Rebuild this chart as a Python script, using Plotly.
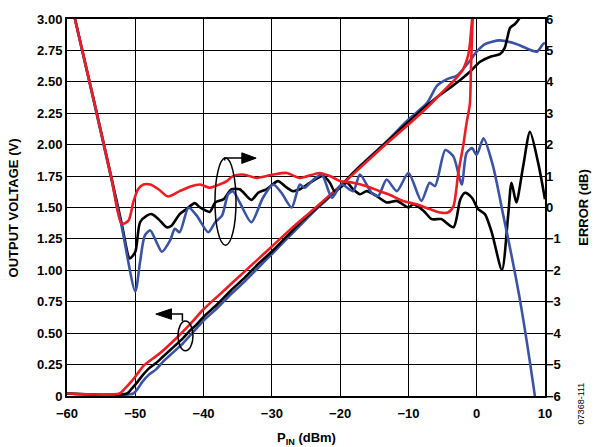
import plotly.graph_objects as go

# ---------------- data ----------------
# Output voltage (left axis, V)
red_v_x = [-60, -52.3, -51.5, -50.5, -49.5, -48.8, -46.4, -44, -42, -40, -37, -34, -30, -27.4, -24, -20,
           -17, -14, -10, -7, -5, -3, -2, -1.3, -1.0, -0.8, -0.6, -0.4]
red_v_y = [0.02, 0.02, 0.06, 0.12, 0.19, 0.24, 0.34, 0.46, 0.57, 0.69, 0.84, 0.99, 1.19, 1.32, 1.48, 1.67,
           1.82, 1.97, 2.16, 2.31, 2.42, 2.53, 2.60, 2.70, 2.80, 2.92, 3.05, 3.2]

black_v_x = [-60, -51.2, -50.5, -50, -49, -48, -47, -46, -45, -44, -43, -42, -41, -40, -38, -36, -34, -32,
             -30, -28, -26, -24, -22, -20, -18, -16, -14, -12, -10, -8, -6, -4, -2.5, -1, 0.5, 2, 3.4,
             4.1, 4.9, 5.6, 6.3, 7]
black_v_y = [0.02, 0.02, 0.06, 0.09, 0.16, 0.22, 0.26, 0.31, 0.36, 0.41, 0.46, 0.52, 0.57, 0.63, 0.73,
             0.84, 0.94, 1.05, 1.15, 1.26, 1.37, 1.47, 1.57, 1.67, 1.78, 1.88, 1.98, 2.08, 2.18, 2.28,
             2.37, 2.45, 2.51, 2.58, 2.66, 2.70, 2.72, 2.77, 2.93, 2.96, 3.01, 3.1]

blue_v_x = [-60, -50.3, -49.5, -49, -48, -47, -46, -45, -44, -43, -42, -41, -40, -38, -36, -34, -32, -30,
            -28, -26, -24, -22, -20, -17.1, -13.7, -9.8, -7.3, -5.8, -4.4, -2.9, -1.4, 0, 1.2, 3.4,
            5.9, 8.8, 9.7, 10]
blue_v_y = [0.02, 0.02, 0.07, 0.11, 0.17, 0.21, 0.27, 0.32, 0.37, 0.42, 0.48, 0.54, 0.60, 0.70, 0.81,
            0.91, 1.02, 1.13, 1.24, 1.35, 1.46, 1.56, 1.66, 1.83, 2.00, 2.21, 2.33, 2.47, 2.52, 2.55,
            2.64, 2.74, 2.80, 2.83, 2.80, 2.74, 2.80, 2.81]

# Error (right axis, dB)
red_e_x = [-60, -56, -53.5, -52.0, -51.0, -50.3, -49.6, -48.8, -47.8, -46.6, -45.2, -43.5, -42.0, -40.5,
           -39.1, -38.3, -36.6, -35.7, -34.2, -32.2, -29.8, -27.8, -25.9, -23.0, -21.5, -20.0, -18.1,
           -16.1, -14.2, -12.7, -10.8, -8.8, -6.9, -5.4, -4.2, -3.4, -2.7, -2.0, -1.5, -1.0, -0.85,
           -0.6, -0.4]
red_e_y = [7.1, 3.35, 0.95, -0.52, -0.42, 0.16, 0.58, 0.73, 0.73, 0.58, 0.35, 0.52, 0.66, 0.73,
           0.63, 0.68, 0.84, 1.0, 1.05, 0.94, 1.05, 1.1, 0.94, 1.1, 1.0, 0.84, 0.79,
           0.68, 0.52, 0.40, 0.21, 0.10, -0.05, -0.16, -0.16, 0.05, 1.1, 1.94, 2.67, 3.3, 4.35,
           6.0, 7.5]

black_e_x = [-60, -56, -53.5, -52, -50.8, -50.0, -49.3, -48.3, -47.6, -46.6, -45.4, -44.7, -43.5, -42.5,
             -41.3, -40.5, -39.1, -38.3, -37.1, -35.9, -34.7, -33.0, -32.0, -30.8, -29.1, -27.8, -26.9,
             -25.9, -24.4, -22.5, -21.5, -20.8, -20.0, -19.0, -18.1, -17.1, -16.1, -14.7, -13.2, -11.7,
             -10.0, -9.3, -7.8, -6.6, -5.2, -3.4, -2.4, -1.7, -0.7, 0.2, 1.2, 2.2, 3.7, 4.6, 5.1, 5.8,
             6.8, 7.8, 9.0, 10]
black_e_y = [7.1, 3.35, 0.95, -0.5, -1.62, -1.41, -0.47, -0.26, -0.21, -0.37, -0.63, -0.58, -0.21, -0.05,
             0.14, 0.0, -0.14, 0.16, 0.26, 0.58, 0.58, 0.24, 0.47, 0.58, 0.84, 0.63, 0.52,
             0.58, 0.79, 1.0, 0.79, 0.52, 0.63, 0.79, 0.58, 0.42, 0.52, 0.37, 0.16, 0.21,
             0.0, 0.1, -0.1, -0.37, -0.37, -0.63, 0.26, 0.47, 0.31, -0.05, -0.21, -0.79, -1.99, -0.26,
             0.79, 0.16, 1.31, 2.41, 1.42, 0.26]

blue_e_x = [-60, -56, -53.5, -52, -50.0, -49.3, -48.6, -47.8, -46.9, -46.1, -44.9, -44.2, -43.5, -42.2,
            -41.0, -39.3, -38.3, -37.3, -36.4, -35.7, -34.7, -33.0, -31.3, -29.8, -28.6, -27.1, -25.9,
            -25.2, -23.9, -22.7, -21.2, -19.8, -18.1, -17.1, -15.4, -14.4, -13.2, -11.7, -10.0, -8.1,
            -6.9, -6.1, -4.6, -3.4, -2.2, -1.5, -0.7, 0.0, 1.0, 2.4, 3.9, 4.9, 6.3, 8.5, 9.0]
blue_e_y = [7.1, 3.3, 0.9, -0.6, -2.67, -1.73, -0.89, -0.73, -1.1, -1.41, -1.05, -0.68, -0.79, 0.0,
            -0.26, -0.79, -0.47, -0.26, 0.42, 0.52, 0.16, -0.47, 0.31, 0.73, 0.47, 0.0, 0.73,
            0.63, 0.89, 1.05, 0.31, 0.73, 0.52, 1.05, 0.47, 0.37, 0.89, 0.52, 1.1, 0.21,
            0.79, 0.68, 1.83, 1.62, 0.73, 1.73, 1.89, 1.68, 2.2, 1.31, -0.26, -1.31, -2.9, -5.97, -6.8]

x_ticks = [-60, -50, -40, -30, -20, -10, 0, 10]
x_tick_text = ["\u221260", "\u221250", "\u221240", "\u221230", "\u221220", "\u221210", "0", "10"]
y_ticks = [0, 0.25, 0.5, 0.75, 1.0, 1.25, 1.5, 1.75, 2.0, 2.25, 2.5, 2.75, 3.0]
y_tick_text = ["0", "0.25", "0.50", "0.75", "1.00", "1.25", "1.50", "1.75", "2.00", "2.25", "2.50",
               "2.75", "3.00"]
y2_ticks = list(range(-6, 7))
y2_tick_text = [("\u2212" + str(-v)) if v < 0 else str(v) for v in y2_ticks]

RED = "#ED1C24"
BLUE = "#3A53A4"
BLACK = "#000000"
LW = 2.6

fig = go.Figure()

def add(x, y, color, axis):
    fig.add_trace(go.Scatter(x=x, y=y, mode="lines", yaxis=axis,
                             line=dict(color=color, width=LW, shape="spline", smoothing=0.7),
                             hoverinfo="skip", showlegend=False))

add(black_e_x, black_e_y, BLACK, "y2")
add(blue_e_x, blue_e_y, BLUE, "y2")
add(red_e_x, red_e_y, RED, "y2")
add(blue_v_x, blue_v_y, BLUE, "y")
add(black_v_x, black_v_y, BLACK, "y")
add(red_v_x, red_v_y, RED, "y")

tickfont = dict(family="Liberation Sans, Arial, sans-serif", size=13, color="black", weight="bold")

fig.update_layout(
    width=595, height=447,
    margin=dict(l=67, r=50, t=14, b=51),
    paper_bgcolor="white", plot_bgcolor="white",
    xaxis=dict(range=[-60, 10], tickvals=x_ticks, ticktext=x_tick_text, tickfont=tickfont,
               showgrid=True, gridcolor="black", gridwidth=1, zeroline=False, ticklabelstandoff=4,
               showline=True, linecolor="black", linewidth=2, mirror=True, ticks="", ticklen=0),
    yaxis=dict(range=[0, 3], tickvals=y_ticks, ticktext=y_tick_text, tickfont=tickfont,
               showgrid=True, gridcolor="black", gridwidth=1, zeroline=False,
               showline=True, linecolor="black", linewidth=2, mirror=True, ticks="", ticklen=0),
    yaxis2=dict(range=[-6, 6], tickvals=y2_ticks, ticktext=y2_tick_text, tickfont=tickfont,
                overlaying="y", side="right", showgrid=False, zeroline=False,
                showline=False, ticks=""),
)

titlefont = dict(family="Liberation Sans, Arial, sans-serif", size=13, color="black", weight="bold")
fig.add_annotation(text="OUTPUT VOLTAGE (V)", xref="paper", yref="paper", x=-0.111, y=0.5,
                   textangle=-90, showarrow=False, font=titlefont, xanchor="center", yanchor="middle")
fig.add_annotation(text="ERROR (dB)", xref="paper", yref="paper", x=1.08, y=0.5,
                   textangle=-90, showarrow=False, font=titlefont, xanchor="center", yanchor="middle")
fig.add_annotation(text="P<sub>IN</sub> (dBm)", xref="paper", yref="paper", x=0.5, y=-0.085,
                   showarrow=False, font=titlefont, xanchor="center", yanchor="top")
fig.add_annotation(text="07368-111", xref="paper", yref="paper", x=1.075, y=-0.02,
                   textangle=-90, showarrow=False,
                   font=dict(family="Liberation Sans, Arial, sans-serif", size=9, color="black"),
                   xanchor="center", yanchor="middle")

# ellipse + arrow pointing to right axis (error curves)
fig.add_shape(type="circle", xref="x", yref="y", x0=-38.33, x1=-35.25, y0=1.20, y1=1.893,
              line=dict(color="black", width=1.5))
fig.add_shape(type="path", xref="x", yref="y",
              path="M -36.9,1.875 L -36.9,1.893 L -34.3,1.893", line=dict(color="black", width=1.5))
fig.add_shape(type="path", xref="x", yref="y",
              path="M -34.4,1.935 L -32.3,1.893 L -34.4,1.851 Z",
              line=dict(color="black", width=1), fillcolor="black")

# ellipse + arrow pointing to left axis (voltage curves)
fig.add_shape(type="circle", xref="x", yref="y", x0=-43.75, x1=-41.55, y0=0.361, y1=0.597,
              line=dict(color="black", width=1.5))
fig.add_shape(type="path", xref="x", yref="y",
              path="M -43.1,0.597 L -43.1,0.652 L -44.8,0.652", line=dict(color="black", width=1.5))
fig.add_shape(type="path", xref="x", yref="y",
              path="M -44.7,0.694 L -47.0,0.652 L -44.7,0.610 Z",
              line=dict(color="black", width=1), fillcolor="black")

fig.write_html("out.html", config={"displayModeBar": False},
               post_script="document.body.style.margin='0';document.body.style.overflow='hidden';")
